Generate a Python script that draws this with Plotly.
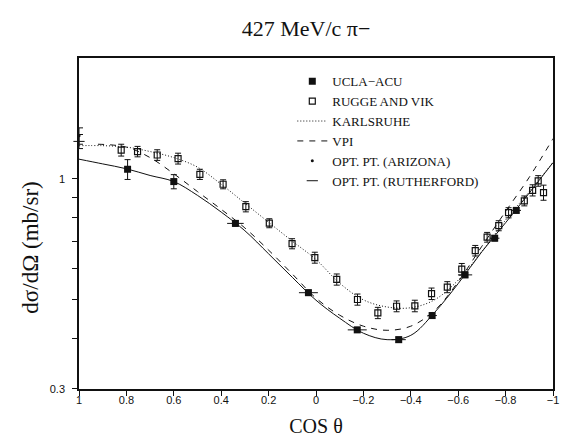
import plotly.graph_objects as go

# ---- data ----
ucla_cos = [0.795, 0.60, 0.34, 0.032, -0.174, -0.349, -0.49, -0.629, -0.754, -0.845]
ucla_val = [1.057, 0.985, 0.775, 0.521, 0.421, 0.398, 0.457, 0.577, 0.712, 0.835]
ucla_err = [0.06, 0.04, 0.012, 0.008, 0.006, 0.006, 0.007, 0.009, 0.011, 0.013]
ucla_xerr = [0.0, 0.0, 0.035, 0.04, 0.04, 0.03, 0.02, 0.03, 0.02, 0.02]

rugge_cos = [0.822, 0.753, 0.670, 0.582, 0.490, 0.392, 0.296, 0.197, 0.101, 0.005,
             -0.0875, -0.175, -0.261, -0.340, -0.417, -0.4875, -0.554, -0.615, -0.672,
             -0.722, -0.771, -0.8125, -0.879, -0.914, -0.9375, -0.960]
rugge_val = [1.18, 1.17, 1.147, 1.124, 1.027, 0.970, 0.853, 0.776, 0.690, 0.637,
             0.562, 0.501, 0.464, 0.482, 0.483, 0.518, 0.538, 0.596, 0.663,
             0.716, 0.765, 0.824, 0.882, 0.937, 0.989, 0.925]
rugge_err = [0.04, 0.035, 0.035, 0.035, 0.03, 0.025, 0.025, 0.02, 0.02, 0.02,
             0.018, 0.016, 0.015, 0.015, 0.016, 0.017, 0.017, 0.02, 0.02,
             0.02, 0.022, 0.024, 0.025, 0.03, 0.03, 0.04]

curve_cos = [1.0, 0.9, 0.8, 0.7, 0.6, 0.5, 0.4, 0.3, 0.2, 0.1, 0.0,
             -0.1, -0.2, -0.3, -0.4, -0.5, -0.6, -0.7, -0.8, -0.9, -1.0]
solid_val = [1.12, 1.09, 1.06, 1.02, 0.985, 0.91, 0.827, 0.743, 0.651, 0.569, 0.499,
             0.450, 0.413, 0.398, 0.408, 0.465, 0.549, 0.659, 0.778, 0.923, 1.098]
karls_val = [1.21, 1.21, 1.20, 1.17, 1.13, 1.07, 0.97, 0.87, 0.78, 0.70, 0.63,
             0.55, 0.50, 0.48, 0.478, 0.50, 0.56, 0.66, 0.79, 0.93, 1.10]
vpi_cos = [0.92, 0.8, 0.7, 0.6, 0.5, 0.4, 0.3, 0.2, 0.1, 0.0,
           -0.1, -0.2, -0.3, -0.4, -0.5, -0.6, -0.7, -0.8, -0.9, -1.0]
vpi_val = [1.22, 1.20, 1.13, 1.03, 0.93, 0.84, 0.755, 0.665, 0.58, 0.505,
           0.458, 0.43, 0.42, 0.43, 0.47, 0.555, 0.68, 0.83, 1.01, 1.26]

opt_cos = [1.0]
arizona_val = [1.28]
arizona_err = [0.06]
rutherford_val = [1.24]
rutherford_err = [0.05]

xtick_vals = [1, 0.8, 0.6, 0.4, 0.2, 0, -0.2, -0.4, -0.6, -0.8, -1]
xtick_text = ["1", "0.8", "0.6", "0.4", "0.2", "0", "\u22120.2", "\u22120.4", "\u22120.6", "\u22120.8", "\u22121"]
ytick_vals = [0.3, 0.4, 0.5, 0.6, 0.7, 0.8, 0.9, 1]
ytick_text = ["0.3", "", "", "", "", "", "", "1"]

K = "#111111"
fig = go.Figure()

fig.add_trace(go.Scatter(x=curve_cos, y=solid_val, mode="lines", line=dict(color=K, width=1, shape="spline"),
                         showlegend=False, hoverinfo="skip"))
fig.add_trace(go.Scatter(x=ucla_cos, y=ucla_val, mode="markers", name="UCLA\u2212ACU",
                         marker=dict(symbol="square", size=7, color=K),
                         error_y=dict(type="data", array=ucla_err, color=K, thickness=1, width=3),
                         error_x=dict(type="data", array=ucla_xerr, color=K, thickness=1, width=0)))
fig.add_trace(go.Scatter(x=rugge_cos, y=rugge_val, mode="markers", name="RUGGE AND VIK",
                         marker=dict(symbol="square-open", size=6, color=K, line=dict(width=1.2)),
                         error_y=dict(type="data", array=rugge_err, color=K, thickness=1, width=3)))
fig.add_trace(go.Scatter(x=curve_cos, y=karls_val, mode="lines", name="KARLSRUHE",
                         line=dict(color=K, width=1, dash="1px,2px", shape="spline")))
fig.add_trace(go.Scatter(x=vpi_cos, y=vpi_val, mode="lines", name="VPI",
                         line=dict(color=K, width=1, dash="6px,6px", shape="spline")))
fig.add_trace(go.Scatter(x=opt_cos, y=arizona_val, mode="markers", name="OPT. PT. (ARIZONA)",
                         marker=dict(symbol="circle", size=3, color=K), cliponaxis=False,
                         error_y=dict(type="data", array=arizona_err, color=K, thickness=1, width=4)))
fig.add_trace(go.Scatter(x=opt_cos, y=rutherford_val, mode="markers", name="OPT. PT. (RUTHERFORD)",
                         marker=dict(symbol="line-ew-open", size=8, color=K, line=dict(width=1, color=K)),
                         cliponaxis=False,
                         error_y=dict(type="data", array=rutherford_err, color=K, thickness=1, width=4)))

fig.update_layout(
    width=564, height=445,
    margin=dict(l=79, r=5, t=58, b=56),
    paper_bgcolor="white", plot_bgcolor="white",
    title=dict(text="427 MeV/c \u03c0\u2212", x=306/564, xanchor="center", y=1 - 28/445, yanchor="middle",
               font=dict(family="Liberation Serif", size=22, color=K)),
    legend=dict(x=0.45, y=0.975, xanchor="left", yanchor="top", bgcolor="rgba(0,0,0,0)",
                font=dict(family="Liberation Serif", size=13, color=K), tracegroupgap=0,
                itemwidth=30),
    font=dict(family="Liberation Sans", color=K),
    annotations=[dict(text="d\u03c3/d\u03a9 (mb/sr)", textangle=-90, xref="paper", yref="paper",
                      x=-50/480, y=(389 - 248) / 331, xanchor="center", yanchor="middle", showarrow=False,
                      font=dict(family="Liberation Serif", size=23, color=K))],
)
fig.update_xaxes(range=[1, -1], tickvals=xtick_vals, ticktext=xtick_text, ticks="outside", ticklen=5,
                 tickcolor=K, showline=True, linecolor=K, linewidth=1.5, mirror=True, showgrid=False,
                 zeroline=False, tickfont=dict(family="Liberation Sans", size=11, color=K),
                 ticklabelstandoff=-5,
                 title=dict(text="COS \u03b8", font=dict(family="Liberation Serif", size=20, color=K), standoff=14))
fig.update_yaxes(type="log", range=[-0.5229, 0.30103], tickvals=ytick_vals, ticktext=ytick_text,
                 ticks="outside", ticklen=5, tickcolor=K, showline=True, linecolor=K, linewidth=1.5,
                 mirror=True, showgrid=False, zeroline=False, ticklabelstandoff=5,
                 tickfont=dict(family="Liberation Sans", size=11, color=K))

fig.write_html("out.html")
